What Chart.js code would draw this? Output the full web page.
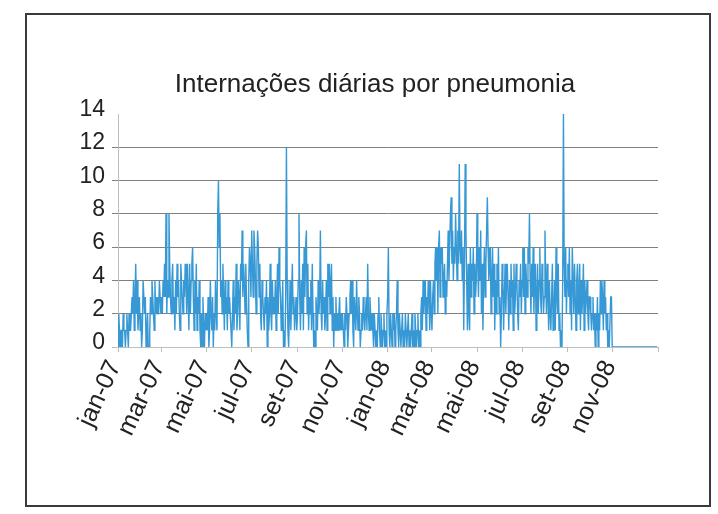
<!DOCTYPE html>
<html lang="pt">
<head>
<meta charset="UTF-8">
<title>Internações diárias por pneumonia</title>
<script src="https://cdn.jsdelivr.net/npm/chart.js"></script>
<style>
  body { margin: 0; background: #fff; }
</style>
</head>
<body>
<canvas id="chart" width="718" height="514"></canvas>
<script>
// internações por dia, uma linha por mês
const daily2007 = [
  0,2,1,0,1,1,0,2,1,1,0,1,2,1,0,2,1,1,2,3,2,4,1,3,5,2,4,1,2,3,1,
  2,0,1,4,4,2,3,0,1,2,0,0,1,3,2,4,3,2,1,4,2,3,2,3,2,4,3,2,
  3,2,4,3,5,3,8,2,4,3,8,5,3,2,4,5,2,3,1,4,2,5,3,4,2,1,5,4,3,2,4,
  3,5,4,2,5,3,1,5,2,4,5,6,3,1,4,2,5,1,3,2,4,1,0,2,0,3,1,0,2,1,
  2,1,3,0,1,4,2,1,3,0,2,1,4,2,1,8,10,6,8,3,4,2,5,3,1,4,2,3,1,4,2,
  3,2,1,0,2,4,1,3,2,5,1,2,4,3,1,5,4,7,3,5,4,2,5,3,1,0,4,6,5,3,
  7,5,3,7,6,4,2,5,7,6,3,5,2,1,4,3,2,1,3,2,4,0,3,1,2,5,2,1,4,2,3,
  2,4,1,3,5,2,6,4,3,1,2,4,0,1,0,3,12,4,1,0,2,4,1,3,5,2,3,1,2,3,1,
  2,4,8,3,1,4,2,5,1,6,3,6,7,2,5,1,3,2,4,1,5,2,0,1,0,3,2,1,4,2,
  3,7,2,1,4,2,3,1,2,4,1,5,3,5,2,4,5,1,3,0,2,1,3,1,2,1,2,3,1,2,1,
  2,1,0,2,1,3,2,0,1,2,3,4,2,4,1,0,3,2,1,4,2,1,3,2,0,1,2,1,3,2,
  1,2,3,1,5,2,1,3,2,1,2,1,0,2,1,0,1,0,2,3,1,0,2,1,0,1,2,0,1,0,2
];
const daily2008 = [
  3,6,1,0,2,1,0,2,1,2,0,1,2,4,1,0,2,1,0,1,2,0,1,0,2,1,0,1,2,0,1,
  0,1,2,0,1,0,2,1,0,1,2,0,1,0,2,3,1,4,2,3,4,1,3,2,4,3,1,4,2,
  1,3,4,2,5,6,4,6,2,6,7,3,6,5,6,3,4,5,2,4,3,5,7,4,6,8,9,5,7,4,6,
  5,8,6,4,7,5,11,6,5,7,4,6,1,5,11,7,4,1,5,2,1,6,3,5,4,6,2,5,3,4,
  8,5,3,6,4,7,2,5,1,4,6,3,5,7,9,6,4,5,6,2,4,6,3,5,1,4,2,5,3,6,2,
  3,0,2,5,4,1,3,5,2,4,5,3,1,4,2,5,3,4,1,5,2,3,5,4,2,1,4,3,5,2,
  4,6,3,6,2,5,4,3,6,5,8,4,2,5,3,6,2,4,5,1,3,5,2,4,6,3,2,5,4,2,3,
  7,4,2,5,3,1,4,2,1,3,5,1,2,4,1,6,3,2,5,1,2,0,1,0,4,14,5,3,6,2,4,
  5,3,6,2,4,1,6,4,2,5,3,1,4,5,2,3,5,1,4,2,3,5,1,4,2,3,4,2,1,3,
  3,2,1,2,3,1,2,0,2,1,3,0,2,1,4,2,4,3,1,4,2,3,1,2,0,1,0,0,3,3,0,
  0,0,0,0,0,0,0,0,0,0,0,0,0,0,0,0,0,0,0,0,0,0,0,0,0,0,0,0,0,0,
  0,0,0,0,0,0,0,0,0,0,0,0,0,0,0,0,0,0,0,0,0,0,0,0,0,0,0,0,0,0,0
];
const tickMonths = [[2007,0],[2007,2],[2007,4],[2007,6],[2007,8],[2007,10],
                    [2008,0],[2008,2],[2008,4],[2008,6],[2008,8],[2008,10],[2009,0]];
const tickLabels = ['jan-07','mar-07','mai-07','jul-07','set-07','nov-07',
                    'jan-08','mar-08','mai-08','jul-08','set-08','nov-08',''];
const titleText = 'Internações diárias por pneumonia';
const yMax = 14;
const yStep = 2;

const start = Date.UTC(2007, 0, 1);
const dayOf = (y, m) => (Date.UTC(y, m, 1) - start) / 864e5;
const tickDays = tickMonths.map(([y, m]) => dayOf(y, m));
const daily = daily2007.concat(daily2008);
const points = daily.map((v, i) => ({ x: i, y: v }));

const axisGray = '#bdbdbd';
const gridGray = '#808080';
const txt = '#222';

// moldura + título (o título fica um pouco à direita do centro, como no original)
const frame = {
  id: 'frame',
  beforeDraw(chart) {
    const c = chart.ctx;
    c.save();
    c.fillStyle = '#fff';
    c.fillRect(0, 0, chart.width, chart.height);
    c.strokeStyle = '#3a3a3a';
    c.lineWidth = 2;
    c.strokeRect(26, 14, 684, 492);
    c.restore();
  },
  afterDraw(chart) {
    const c = chart.ctx;
    c.save();
    c.fillStyle = txt;
    c.font = '26px "Liberation Sans"';
    c.textAlign = 'center';
    c.textBaseline = 'middle';
    c.fillText(titleText, 375, 85);
    c.restore();
  }
};

new Chart(document.getElementById('chart'), {
  type: 'line',
  data: {
    datasets: [{
      data: points,
      borderColor: '#3698d4',
      borderWidth: 1.4,
      pointRadius: 0,
      tension: 0,
      fill: false
    }]
  },
  options: {
    responsive: false,
    animation: false,
    layout: { padding: { left: 0, right: 60, top: 114, bottom: 0 } },
    plugins: {
      legend: { display: false },
      tooltip: { enabled: false },
      title: { display: false }
    },
    scales: {
      x: {
        type: 'linear',
        min: 0,
        max: tickDays[tickDays.length - 1],
        afterBuildTicks: s => { s.ticks = tickDays.map(v => ({ value: v })); },
        afterFit: s => { s.height = 167; },
        grid: { drawOnChartArea: false, tickLength: 5, color: axisGray },
        border: { color: axisGray },
        ticks: {
          autoSkip: false,
          minRotation: 65,
          maxRotation: 65,
          padding: 4,
          labelOffset: -3,
          color: txt,
          font: { family: 'Liberation Sans', size: 25 },
          callback: (v, i) => tickLabels[i]
        }
      },
      y: {
        min: 0,
        max: yMax,
        afterFit: s => { s.width = 118; },
        grid: {
          tickLength: 6,
          color: ctx => ctx.tick.value === yMax ? 'rgba(0,0,0,0)'
                      : ctx.tick.value === 0 ? axisGray : gridGray
        },
        border: { color: axisGray },
        ticks: {
          stepSize: yStep,
          padding: 7,
          color: txt,
          // empty second line lifts the number a few px, like the original
          font: { family: 'Liberation Sans', size: 23, lineHeight: 0.36 },
          callback: v => [String(v), '']
        }
      }
    }
  },
  plugins: [frame]
});
</script>
</body>
</html>
